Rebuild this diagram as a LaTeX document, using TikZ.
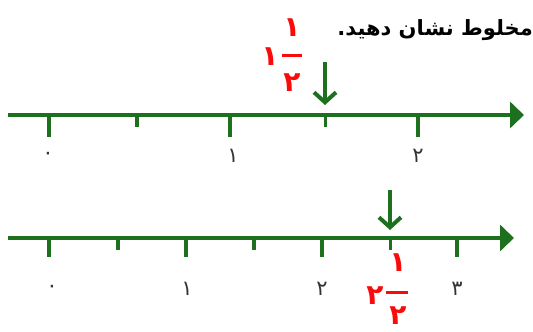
\documentclass[tikz,border=0pt]{standalone}
\usepackage{fontspec}
\usetikzlibrary{arrows.meta}
\TeXXeTstate=1
\newfontfamily\arabicfont[Script=Arabic]{DejaVu Sans}
\definecolor{axgreen}{RGB}{28,112,30}
\definecolor{numred}{RGB}{250,10,10}
\tikzset{
  axis/.style={draw=axgreen, line width=4pt, -{Triangle[length=14pt,width=26pt]}},
  longtick/.style={draw=axgreen, line width=4.5pt},
  shorttick/.style={draw=axgreen, line width=4.5pt},
  thintick/.style={draw=axgreen, line width=3pt},
  pointer/.style={draw=axgreen, line width=4pt, -{Straight Barb[length=10pt,width=22pt,line width=4pt]}},
  lab/.style={font=\arabicfont\fontsize{21}{21}\selectfont, text=black!80, inner sep=0pt},
  rednum/.style={font=\arabicfont\bfseries\fontsize{28}{28}\selectfont, text=numred, inner sep=0pt},
  bar/.style={draw=numred, line width=3pt}
}
\begin{document}
\begin{tikzpicture}[x=1pt,y=-1pt]
\useasboundingbox (0,0) rectangle (533,332);
% title
\node[font=\arabicfont\bfseries\fontsize{21}{21}\selectfont, anchor=east, inner sep=0pt] (title) at (533,30) {\beginR مخلوط نشان دهید.\endR};
% top number line
\coordinate (a1s) at (8,115);
\coordinate (a1e) at (524,115);
\draw[axis] (a1s) -- (a1e);
\foreach \n/\x/\b/\s in {t0/49/137/longtick, th/137/127/shorttick, t1/230/137/longtick, tm/325/127/thintick, t2/418/137/longtick}{
  \coordinate (\n a) at (\x,115);
  \coordinate (\n b) at (\x,\b);
  \draw[\s] (\n a) -- (\n b);
}
\node[lab] (l10) at (48,156) {۰};
\node[lab] (l11) at (233,156) {۱};
\node[lab] (l12) at (418,156) {۲};
\coordinate (p1s) at (325,62);
\coordinate (p1e) at (325,105);
\draw[pointer] (p1s) -- (p1e);
\node[rednum] (w1) at (270,57) {۱};
\node[rednum] (n1) at (292,28) {۱};
\node[rednum] (d1) at (292,83) {۲};
\coordinate (b1s) at (282,55);
\coordinate (b1e) at (302,55);
\draw[bar] (b1s) -- (b1e);
% bottom number line
\coordinate (a2s) at (8,238);
\coordinate (a2e) at (514,238);
\draw[axis] (a2s) -- (a2e);
\foreach \n/\x/\b/\s in {u0/49/257/longtick, uh/118/250/shorttick, u1/186/257/longtick, uh2/254/250/shorttick, u2/322/257/longtick, um/390/250/thintick, u3/457/257/longtick}{
  \coordinate (\n a) at (\x,238);
  \coordinate (\n b) at (\x,\b);
  \draw[\s] (\n a) -- (\n b);
}
\node[lab] (l20) at (52,289) {۰};
\node[lab] (l21) at (187,289) {۱};
\node[lab] (l22) at (322,289) {۲};
\node[lab] (l23) at (457,289) {۳};
\coordinate (p2s) at (390,190);
\coordinate (p2e) at (390,230);
\draw[pointer] (p2s) -- (p2e);
\node[rednum] (w2) at (375,296) {۲};
\node[rednum] (n2) at (398,263) {۱};
\node[rednum] (d2) at (398,316) {۲};
\coordinate (b2s) at (386,292);
\coordinate (b2e) at (408,292);
\draw[bar] (b2s) -- (b2e);
\end{tikzpicture}
\end{document}
